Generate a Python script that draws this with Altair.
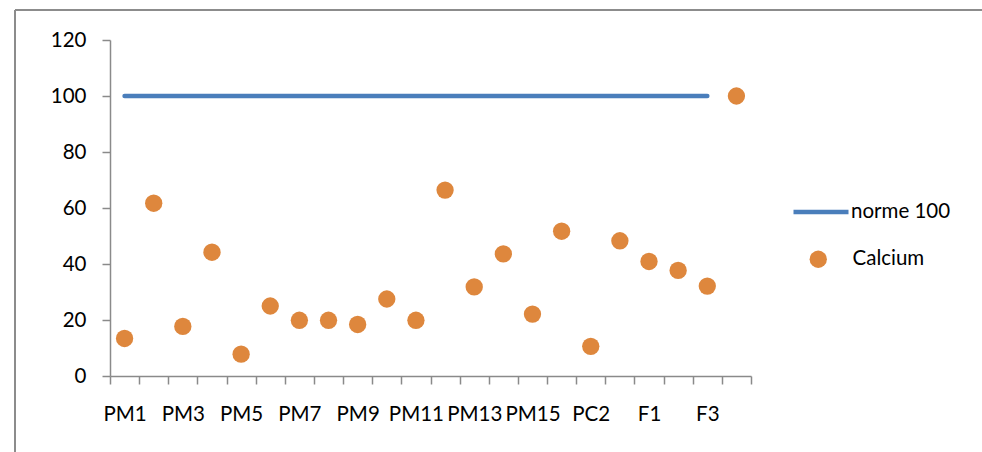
import json
import altair as alt
import pandas as pd

categories = ["PM1", "PM2", "PM3", "PM4", "PM5", "PM6", "PM7", "PM8", "PM9", "PM10",
              "PM11", "PM12", "PM13", "PM14", "PM15", "PC1", "PC2", "PC3", "F1", "F2",
              "F3", "F4"]
calcium = [13.4, 61.7, 17.7, 44.2, 7.8, 25.0, 19.9, 19.9, 18.4, 27.5,
           19.9, 66.4, 31.8, 43.6, 22.1, 51.7, 10.6, 48.3, 40.9, 37.7,
           32.1, 100]
norme = [100] * 21 + [None]
y_ticks = [0, 20, 40, 60, 80, 100, 120]

FONT = "Lato"
BLUE = "#4A7EBB"
ORANGE = "#DE873D"
AXIS_GRAY = "#8A8A8A"

shown = categories[::2]

df_line = pd.DataFrame({"cat": categories, "val": norme, "series": "norme 100"}).dropna()
df_pts = pd.DataFrame({"cat": categories, "val": calcium, "series": "Calcium"})

xscale = alt.Scale(type="band", domain=categories, paddingInner=0, paddingOuter=0)
yscale = alt.Scale(domain=[0, 120], nice=False, zero=True)

xaxis = alt.Axis(title=None, labelAngle=0, labelOverlap=False, tickBand="extent",
                 tickSize=8, labelPadding=20, grid=False,
                 labelExpr="indexof(" + json.dumps(shown) + ", datum.value) >= 0 ? datum.label : ''")
yaxis = alt.Axis(title=None, values=y_ticks, tickSize=8, labelPadding=16, grid=False)

line = alt.Chart(df_line).mark_line(strokeWidth=4.5, strokeCap="round").encode(
    x=alt.X("cat:N", scale=xscale, axis=xaxis, sort=categories),
    y=alt.Y("val:Q", scale=yscale, axis=yaxis),
    stroke=alt.Stroke("series:N", scale=alt.Scale(domain=["norme 100"], range=[BLUE]),
                      legend=alt.Legend(title=None, orient="none", legendX=681, legendY=142,
                                        symbolType="stroke", symbolSize=3025,
                                        symbolStrokeWidth=4.5, labelOffset=0, padding=0)),
)

pts = alt.Chart(df_pts).mark_circle(size=300, opacity=1).encode(
    x=alt.X("cat:N", scale=xscale, sort=categories),
    y=alt.Y("val:Q", scale=yscale),
    fill=alt.Fill("series:N", scale=alt.Scale(domain=["Calcium"], range=[ORANGE]),
                  legend=alt.Legend(title=None, orient="none", legendX=698, legendY=209,
                                    symbolType="circle", symbolSize=300,
                                    labelOffset=24, padding=0)),
)

one = alt.Data(values=[{"k": 1}])
border_left = alt.Chart(one).mark_rule(color="#8C8C8C", strokeWidth=2).encode(
    x=alt.value(-95), y=alt.value(-30), y2=alt.value(440))
border_top = alt.Chart(one).mark_rule(color="#8C8C8C", strokeWidth=2).encode(
    x=alt.value(-95), x2=alt.value(900), y=alt.value(-30))

chart = alt.layer(border_left, border_top, line, pts).resolve_scale(
    stroke="independent", fill="independent"
).properties(
    width=641, height=336,
    autosize=alt.AutoSizeParams(type="none"),
    padding={"left": 110, "top": 40, "right": 231, "bottom": 76},
    background="white",
).configure_view(stroke=None).configure_axis(
    labelFont=FONT, labelFontSize=20.5, labelColor="#000000",
    domainColor=AXIS_GRAY, tickColor=AXIS_GRAY, domainWidth=1.5, tickWidth=1.5,
).configure_legend(
    labelFont=FONT, labelFontSize=20.5, labelColor="#000000",
)

chart.save("out.html", embed_options={"renderer": "svg", "actions": False})
